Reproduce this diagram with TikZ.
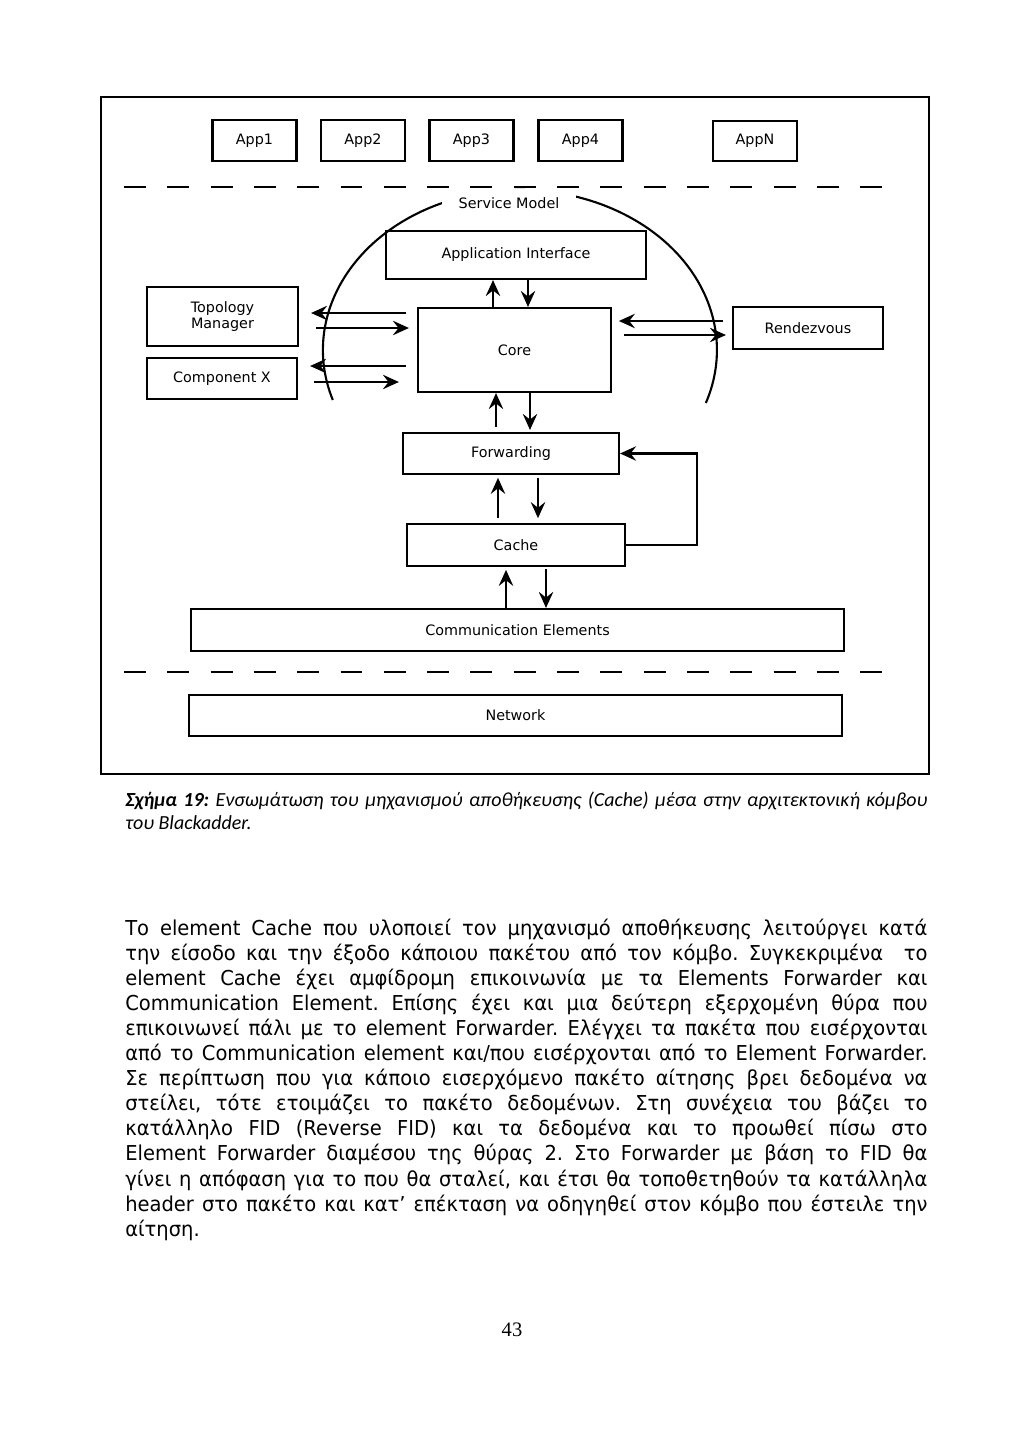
\documentclass[tikz,border=0pt]{standalone}
\usepackage{fontspec}
\setmainfont{DejaVu Sans}
\newfontfamily\bodyfont[FakeStretch=0.95]{DejaVu Sans}
\newfontfamily\capfont{Carlito}
\newfontfamily\pagefont{Liberation Serif}
\usetikzlibrary{arrows.meta}
\usetikzlibrary{calc}
\tikzset{>={Stealth[length=4mm,width=3.6mm,inset=1.4mm]}}
\frenchspacing

\begin{document}
\begin{tikzpicture}[x=0.025cm, y=-0.025cm,
    box/.style={draw, line width=1.5pt, inner sep=0pt, align=center,
      font=\fontsize{10.2}{12}\selectfont},
    app/.style={box, minimum width=2.1cm, minimum height=1.02cm},
    layer/.style={box, minimum width=16.325cm, minimum height=1.05cm},
    arr/.style={->, line width=1.5pt},
    sep/.style={line width=2pt, dash pattern=on 15.6pt off 15.2pt}]
    \fill[white] (0,0) rectangle (1024,1447);
    \useasboundingbox (0,0) rectangle (1024,1447);

    % frame of the figure
    \draw[line width=1.5pt] (101,97) rectangle (929,774);

    % applications
    \node[app] (App1) at (254.5,140.5) {App1};
    \node[app] (App2) at (363,140.5) {App2};
    \node[app] (App3) at (471.5,140.5) {App3};
    \node[app] (App4) at (580.5,140.5) {App4};
    \node[app] (AppN) at (755,141) {AppN};
    \draw[sep] (124,187) -- (886,187);

    % service model
    \draw[line width=1.5pt] (332.8,400) arc[start angle=161.8, end angle=379.3, x radius=197, y radius=160];
    \node[fill=white, inner xsep=12pt, inner ysep=6pt, font=\fontsize{10.2}{12}\selectfont] (SM) at (509,203) {Service Model};

    \node[box, minimum width=6.5cm, minimum height=1.2cm] (AI) at (516,255) {Application Interface};
    \node[box, minimum width=4.825cm, minimum height=2.1cm] (Core) at (514.5,350) {Core};
    \node[box, minimum width=3.775cm, minimum height=1.475cm] (TM) at (222.5,316.5) {Topology\\Manager};
    \node[box, minimum width=3.75cm, minimum height=1.025cm] (CX) at (222,378.5) {Component X};
    \node[box, minimum width=3.75cm, minimum height=1.05cm] (RV) at (808,328) {Rendezvous};
    \node[box, minimum width=5.4cm, minimum height=1.025cm] (Fwd) at (511,453.5) {Forwarding};
    \node[box, minimum width=5.45cm, minimum height=1.05cm] (Cache) at (516,545) {Cache};
    \node[layer] (CE) at (517.5,630) {Communication Elements};
    \draw[sep] (124,672) -- (886,672);
    \node[layer, minimum height=1.025cm] (Net) at (515.5,715.5) {Network};

    % connections
    \draw[arr] (Core.north -| 493,0) -- (AI.south -| 493,0);
    \draw[arr] (AI.south -| 528,0) -- (Core.north -| 528,0);
    \draw[arr, shorten <=0.12cm] (Fwd.north -| 496,0) -- (Core.south -| 496,0);
    \draw[arr, shorten >=0.05cm] (Core.south -| 530,0) -- (Fwd.north -| 530,0);
    \draw[arr, shorten <=0.12cm, shorten >=0.07cm] (Cache.north -| 498,0) -- (Fwd.south -| 498,0);
    \draw[arr, shorten <=0.07cm, shorten >=0.12cm] (Fwd.south -| 538,0) -- (Cache.north -| 538,0);
    \draw[arr, shorten >=0.07cm] (CE.north -| 506,0) -- (Cache.south -| 506,0);
    \draw[arr, shorten <=0.05cm] (Cache.south -| 546,0) -- (CE.north -| 546,0);
    \draw[arr] (Cache.east) -- ++(71,0) |- (Fwd.east);

    \draw[arr, shorten <=0.275cm, shorten >=0.3cm] (Core.west |- 0,313) -- (TM.east |- 0,313);
    \draw[arr, shorten <=0.42cm, shorten >=0.2cm] (TM.east |- 0,328) -- (Core.west |- 0,328);
    \draw[arr, shorten <=0.275cm, shorten >=0.3cm] (Core.west |- 0,366) -- (CX.east |- 0,366);
    \draw[arr, shorten <=0.4cm, shorten >=0.45cm] (CX.east |- 0,382) -- (Core.west |- 0,382);
    \draw[arr, shorten <=0.22cm, shorten >=0.17cm] (RV.west |- 0,321) -- (Core.east |- 0,321);
    \draw[arr, shorten <=0.3cm, shorten >=0.15cm] (Core.east |- 0,335) -- (RV.west |- 0,335);

    % caption
    \node[anchor=base west, text width=20.05cm, align=justify, inner sep=0pt,
      font=\capfont\itshape\fontsize{14.2}{16.4}\selectfont] (cap) at (125,806)
      {\textbf{Σχήμα 19:} Ενσωμάτωση του μηχανισμού αποθήκευσης (Cache) μέσα στην αρχιτεκτονική κόμβου\linebreak
      του Blackadder.};

    % text
    \node[anchor=base west, text width=20.05cm, align=justify, inner sep=0pt,
      font=\bodyfont\fontsize{14.6}{17.85}\selectfont] (body) at (125,935)
      {Το element Cache που υλοποιεί τον μηχανισμό αποθήκευσης λειτούργει κατά\linebreak
      την είσοδο και την έξοδο κάποιου πακέτου από τον κόμβο. Συγκεκριμένα \ το\linebreak
      element Cache έχει αμφίδρομη επικοινωνία με τα Elements Forwarder και\linebreak
      Communication Element. Επίσης έχει και μια δεύτερη εξερχομένη θύρα που\linebreak
      επικοινωνεί πάλι με το element Forwarder. Ελέγχει τα πακέτα που εισέρχονται\linebreak
      από το Communication element και/που εισέρχονται από το Element Forwarder.\linebreak
      Σε περίπτωση που για κάποιο εισερχόμενο πακέτο αίτησης βρει δεδομένα να\linebreak
      στείλει, τότε ετοιμάζει το πακέτο δεδομένων. Στη συνέχεια του βάζει το\linebreak
      κατάλληλο FID (Reverse FID) και τα δεδομένα και το προωθεί πίσω στο\linebreak
      Element Forwarder διαμέσου της θύρας 2. Στο Forwarder με βάση το FID θα\linebreak
      γίνει η απόφαση για το που θα σταλεί, και έτσι θα τοποθετηθούν τα κατάλληλα\linebreak
      header στο πακέτο και κατ’ επέκταση να οδηγηθεί στον κόμβο που έστειλε την\linebreak
      αίτηση.};

    \node[anchor=base, inner sep=0pt, font=\pagefont\fontsize{14.6}{17}\selectfont] (page) at (512,1336) {43};
\end{tikzpicture}
\end{document}
